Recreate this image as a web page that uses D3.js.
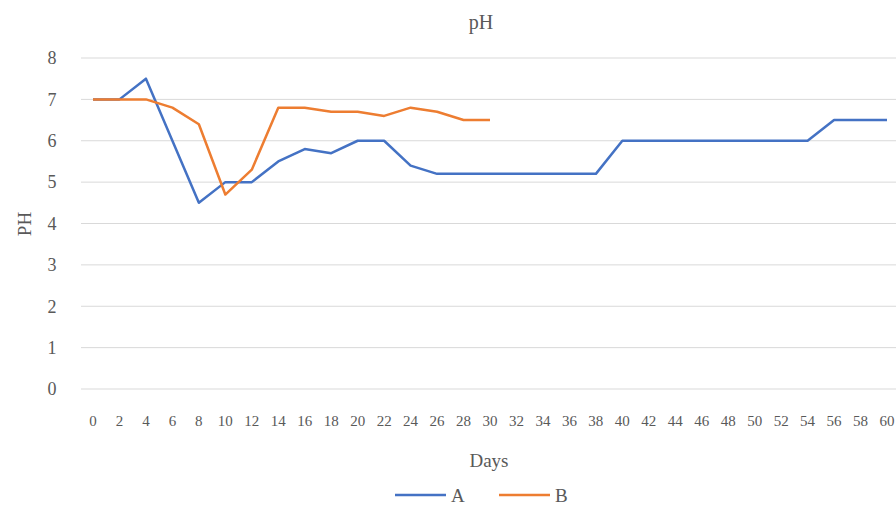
<html>
<head>
<meta charset="utf-8">
<title>pH</title>
<style type="text/css">
body { margin: 0; background: #fff; }
text { font-family: "Liberation Serif", "DejaVu Serif", serif; fill: #595959; }
</style>
</head>
<body>
<script src="https://d3js.org/d3.v7.min.js"></script>
<script>

// data
var days = [0,2,4,6,8,10,12,14,16,18,20,22,24,26,28,30,32,34,36,38,40,42,44,46,48,50,52,54,56,58,60];
var seriesA = [7,7,7.5,6,4.5,5,5,5.5,5.8,5.7,6,6,5.4,5.2,5.2,5.2,5.2,5.2,5.2,5.2,6,6,6,6,6,6,6,6,6.5,6.5,6.5];
var seriesB = [7,7,7,6.8,6.4,4.7,5.3,6.8,6.8,6.7,6.7,6.6,6.8,6.7,6.5,6.5];
var yTicks = [0,1,2,3,4,5,6,7,8];

var width = 896, height = 505;

var svg = d3.select("body").append("svg")
    .attr("width", width)
    .attr("height", height);

var x = d3.scalePoint()
    .domain(days)
    .range([93, 887]);
var y = d3.scaleLinear()
    .domain([0, 8])
    .range([389, 58]);

// gridlines
svg.append("g")
    .selectAll("line")
    .data(yTicks)
    .enter().append("line")
    .attr("x1", 81)
    .attr("x2", 896)
    .attr("y1", function(d) { return y(d); })
    .attr("y2", function(d) { return y(d); })
    .attr("stroke", "#d9d9d9")
    .attr("stroke-width", 1);

// y axis labels
svg.append("g")
    .selectAll("text")
    .data(yTicks)
    .enter().append("text")
    .attr("x", 52)
    .attr("y", function(d) { return y(d); })
    .attr("dy", "0.35em")
    .attr("text-anchor", "middle")
    .style("font-size", "18px")
    .text(function(d) { return d; });

// x axis labels
svg.append("g")
    .selectAll("text")
    .data(days)
    .enter().append("text")
    .attr("x", function(d) { return x(d); })
    .attr("y", 421)
    .attr("dy", "0.35em")
    .attr("text-anchor", "middle")
    .style("font-size", "15px")
    .text(function(d) { return d; });

var line = d3.line()
    .x(function(d, i) { return x(days[i]); })
    .y(function(d) { return y(d); });

svg.append("path")
    .datum(seriesA)
    .attr("fill", "none")
    .attr("stroke", "#4472C4")
    .attr("stroke-width", 2.5)
    .attr("stroke-linejoin", "round")
    .attr("d", line);

svg.append("path")
    .datum(seriesB)
    .attr("fill", "none")
    .attr("stroke", "#ED7D31")
    .attr("stroke-width", 2.5)
    .attr("stroke-linejoin", "round")
    .attr("d", line);

// title
svg.append("text")
    .attr("x", 481)
    .attr("y", 22)
    .attr("dy", "0.35em")
    .attr("text-anchor", "middle")
    .style("font-size", "20px")
    .text("pH");

// axis titles
svg.append("text")
    .attr("x", 489)
    .attr("y", 460)
    .attr("dy", "0.35em")
    .attr("text-anchor", "middle")
    .style("font-size", "19px")
    .text("Days");

svg.append("text")
    .attr("transform", "translate(24,224) rotate(-90)")
    .attr("dy", "0.35em")
    .attr("text-anchor", "middle")
    .style("font-size", "19px")
    .text("PH");

// legend
var legend = [{name: "A", color: "#4472C4", x: 395}, {name: "B", color: "#ED7D31", x: 499}];
var lg = svg.append("g").selectAll("g")
    .data(legend)
    .enter().append("g");
lg.append("line")
    .attr("x1", function(d) { return d.x; })
    .attr("x2", function(d) { return d.x + 51; })
    .attr("y1", 495)
    .attr("y2", 495)
    .attr("stroke", function(d) { return d.color; })
    .attr("stroke-width", 2.5);
lg.append("text")
    .attr("x", function(d) { return d.x + 56; })
    .attr("y", 495)
    .attr("dy", "0.35em")
    .style("font-size", "19px")
    .text(function(d) { return d.name; });

</script>
</body>
</html>
